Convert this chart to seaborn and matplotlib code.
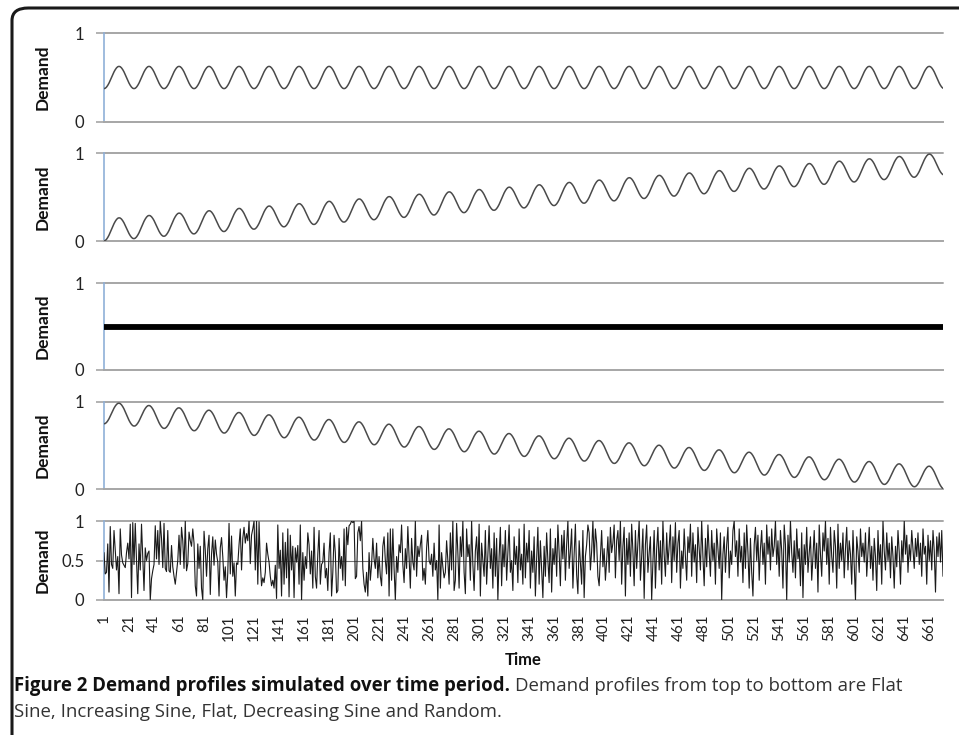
import numpy as np
import pandas as pd
import matplotlib
matplotlib.use("Agg")
import matplotlib.pyplot as plt
from matplotlib.patches import FancyBboxPatch
import seaborn as sns

# ---------------------------------------------------------------- data
N_PERIODS = 672
time = np.arange(1, N_PERIODS + 1)

# one daily cycle (24 steps) of the seasonal swing, as offsets from the level
cycle_offsets = [-0.125, -0.121, -0.108, -0.088, -0.063, -0.032,
                 0.000, 0.032, 0.063, 0.088, 0.108, 0.121,
                 0.125, 0.121, 0.108, 0.088, 0.063, 0.032,
                 0.000, -0.032, -0.063, -0.088, -0.108, -0.121]

# demand level at the first and last period of each profile
flat_sine_level = [0.5, 0.5]
increasing_level = [0.125, 0.875]
flat_level = [0.5, 0.5]
decreasing_level = [0.875, 0.125]

# random demand, in percent of the maximum
random_pct = [
    60, 33, 35, 71, 10, 93, 45, 40, 88, 62, 38, 55, 8, 90, 57, 47, 44, 41, 60, 72, 52, 96, 3, 98,
    45, 97, 50, 8, 71, 38, 96, 53, 12, 66, 50, 59, 62, 0, 27, 37, 45, 94, 52, 88, 45, 100, 78, 41,
    97, 40, 36, 88, 37, 35, 69, 42, 30, 20, 35, 50, 82, 45, 92, 75, 40, 100, 37, 46, 86, 75, 68, 90,
    72, 18, 5, 71, 40, 68, 15, 0, 87, 63, 30, 65, 82, 7, 58, 80, 44, 76, 58, 48, 5, 66, 79, 55,
    25, 42, 3, 35, 97, 33, 81, 30, 47, 5, 47, 45, 70, 90, 38, 78, 92, 72, 84, 75, 100, 46, 82, 90,
    100, 38, 100, 20, 99, 47, 18, 28, 22, 35, 72, 58, 48, 30, 18, 25, 15, 44, 2, 95, 40, 63, 5, 85,
    20, 73, 28, 90, 4, 82, 38, 68, 3, 66, 48, 69, 20, 95, 0, 60, 25, 55, 40, 85, 70, 33, 62, 15,
    92, 30, 15, 58, 88, 20, 45, 48, 72, 28, 40, 12, 60, 85, 5, 35, 82, 60, 9, 12, 78, 40, 55, 25,
    90, 18, 92, 70, 94, 96, 100, 98, 100, 27, 30, 85, 93, 75, 100, 40, 20, 10, 35, 5, 60, 25, 45, 78,
    52, 40, 72, 28, 55, 30, 18, 68, 80, 50, 33, 85, 5, 90, 25, 90, 40, 0, 55, 35, 70, 60, 95, 45,
    22, 65, 40, 93, 55, 15, 78, 48, 38, 100, 30, 68, 55, 70, 82, 25, 40, 20, 66, 88, 50, 45, 58, 30,
    72, 38, 50, 0, 95, 15, 60, 42, 28, 35, 75, 50, 20, 85, 38, 100, 12, 25, 97, 60, 15, 80, 55, 100,
    35, 8, 90, 55, 70, 25, 100, 45, 12, 62, 80, 38, 96, 5, 72, 50, 30, 88, 20, 58, 94, 40, 65, 15,
    85, 30, 78, 0, 55, 92, 18, 70, 42, 88, 25, 60, 95, 35, 50, 12, 80, 45, 68, 22, 90, 38, 58, 20,
    96, 28, 72, 48, 88, 15, 62, 35, 80, 5, 52, 92, 20, 75, 40, 3, 68, 30, 85, 50, 22, 90, 10, 65,
    45, 78, 30, 95, 60, 18, 82, 52, 88, 25, 70, 100, 40, 62, 90, 15, 58, 96, 32, 8, 75, 48, 20, 88,
    3, 55, 70, 95, 85, 38, 62, 100, 48, 90, 72, 30, 18, 55, 88, 42, 65, 25, 50, 80, 35, 92, 60, 72,
    95, 28, 75, 88, 50, 100, 20, 68, 92, 5, 78, 45, 85, 30, 96, 62, 18, 88, 40, 72, 100, 25, 55, 90,
    2, 70, 95, 35, 60, 80, 0, 48, 88, 15, 65, 92, 38, 75, 20, 100, 58, 30, 85, 45, 68, 95, 22, 80,
    50, 98, 35, 72, 88, 15, 62, 40, 90, 55, 25, 80, 60, 96, 30, 85, 48, 70, 22, 92, 65, 38, 100, 55,
    18, 78, 42, 95, 60, 30, 88, 50, 72, 20, 90, 65, 40, 85, 0, 58, 80, 35, 70, 92, 28, 62, 45, 88,
    100, 55, 75, 30, 90, 48, 68, 22, 85, 40, 95, 60, 15, 78, 35, 5, 70, 92, 50, 82, 25, 65, 88, 45,
    72, 20, 95, 58, 80, 38, 90, 55, 68, 100, 45, 75, 30, 88, 62, 15, 95, 70, 0, 82, 48, 100, 60, 35,
    75, 28, 90, 52, 65, 18, 85, 3, 70, 45, 92, 35, 60, 80, 25, 55, 88, 40, 72, 10, 95, 58, 30, 85,
    62, 100, 45, 78, 20, 92, 55, 35, 88, 68, 15, 96, 40, 72, 50, 85, 28, 65, 92, 38, 75, 58, 20, 88,
    45, 0, 80, 62, 35, 90, 55, 72, 48, 85, 30, 60, 92, 40, 68, 25, 78, 55, 12, 88, 45, 70, 20, 100,
    62, 38, 85, 50, 72, 28, 80, 55, 15, 68, 42, 88, 60, 20, 75, 48, 100, 58, 82, 35, 70, 50, 88, 65,
    40, 78, 55, 85, 45, 72, 30, 90, 58, 68, 20, 82, 50, 75, 38, 88, 62, 10, 80, 55, 85, 48, 88, 30,
]

x_tick_values = list(range(1, N_PERIODS, 20))
x_tick_labels = [str(v) for v in x_tick_values]
x_major_marks = list(range(1, N_PERIODS, 100))


def seasonal(level, with_cycle=True):
    lvl = np.linspace(level[0], level[1], N_PERIODS)
    if not with_cycle:
        return lvl
    n_cycles = N_PERIODS // len(cycle_offsets)
    return lvl + np.tile(cycle_offsets, n_cycles)


df = pd.DataFrame({
    "Time": time,
    "Flat Sine": seasonal(flat_sine_level),
    "Increasing Sine": seasonal(increasing_level),
    "Flat": seasonal(flat_level, with_cycle=False),
    "Decreasing Sine": seasonal(decreasing_level),
    "Random": np.array(random_pct[:N_PERIODS]) / 100.0,
})

# ---------------------------------------------------------------- style
sns.set_theme(style="white")
plt.rcParams["font.family"] = ["Lato", "DejaVu Sans"]

W, H = 959, 735
fig = plt.figure(figsize=(W / 100, H / 100), dpi=100)

AXIS_BLUE = "#8FB0D8"
GRID_GREY = "#A6A6A6"
LINE_GREY = "#4A4A4A"


def rect(x0, y_top, x1, y_bot):
    return [x0 / W, 1 - y_bot / H, (x1 - x0) / W, (y_bot - y_top) / H]


panels = [
    ("Flat Sine", (104, 33, 943, 122), dict(color=LINE_GREY, linewidth=1.1)),
    ("Increasing Sine", (104, 153, 943, 241), dict(color=LINE_GREY, linewidth=1.1)),
    ("Flat", (104, 283, 943, 370), dict(color="black", linewidth=4.2)),
    ("Decreasing Sine", (104, 402, 943, 489), dict(color=LINE_GREY, linewidth=1.1)),
    ("Random", (104, 521, 943, 600), dict(color="#1a1a1a", linewidth=0.8)),
]

for i, (name, box, line_kw) in enumerate(panels):
    ax = fig.add_axes(rect(*box))
    is_last = i == len(panels) - 1
    if is_last:
        ax.axhline(0.5, color="#707070", linewidth=0.8, zorder=0)
    sns.lineplot(data=df, x="Time", y=name, ax=ax, legend=False,
                 estimator=None, zorder=3, **line_kw)
    ax.set_xlim(1, N_PERIODS)
    ax.set_ylim(0, 1)
    ax.axhline(1, color=GRID_GREY, linewidth=1.4, clip_on=False, zorder=1)

    for s in ("top", "right"):
        ax.spines[s].set_visible(False)
    ax.spines["left"].set_color(AXIS_BLUE)
    ax.spines["left"].set_linewidth(1.2)
    ax.spines["bottom"].set_color(GRID_GREY)
    ax.spines["bottom"].set_linewidth(1.4)

    if is_last:
        ax.set_yticks([0, 0.5, 1])
        ax.set_yticklabels(["0", "0.5", "1"])
    else:
        ax.set_yticks([0, 1])
        ax.set_yticklabels(["0", "1"])
    ax.tick_params(axis="y", direction="out", length=6, width=1.2,
                   color=GRID_GREY, labelsize=12, pad=8, labelcolor="#222222",
                   left=True)

    ax.set_ylabel("Demand", fontsize=12.5, fontweight="bold", color="#111111")
    ax.yaxis.set_label_coords(-0.064, 0.5)

    if is_last:
        ax.set_xticks(x_tick_values)
        ax.set_xticklabels(x_tick_labels, rotation=90)
        ax.set_xticks(x_major_marks, minor=True)
        ax.tick_params(axis="x", which="major", length=0, labelsize=11,
                       pad=10, labelcolor="#222222", bottom=True)
        ax.tick_params(axis="x", which="minor", length=5, width=1.2,
                       color=GRID_GREY, bottom=True, direction="out")
        ax.set_xlabel("Time", fontsize=12, fontweight="bold", color="#111111")
        ax.xaxis.set_label_coords(0.5, -0.66)
    else:
        ax.set_xticks([])
        ax.set_xlabel("")

# ---------------------------------------------------------------- frame
frame = FancyBboxPatch((12 / W, -0.2), 1.2, (H - 8) / H + 0.2,
                       boxstyle="round,pad=0,rounding_size=0.017",
                       transform=fig.transFigure, fill=False,
                       edgecolor="#1a1a1a", linewidth=2.2, clip_on=False)
fig.patches.append(frame)

# ---------------------------------------------------------------- caption
cap_family = ["Open Sans", "DejaVu Sans"]
cap_size = 13.4
t_bold = fig.text(14 / W, 1 - 686 / H, "Figure 2 Demand profiles simulated over time period.",
                  fontsize=cap_size, fontweight="bold", family=cap_family,
                  color="#111111", va="center", ha="left")
fig.canvas.draw()
bb = t_bold.get_window_extent(renderer=fig.canvas.get_renderer())
fig.text((bb.x1 + 5) / W, 1 - 686 / H,
         "Demand profiles from top to bottom are Flat",
         fontsize=cap_size, family=cap_family, color="#333333", va="center", ha="left")
fig.text(14 / W, 1 - 712 / H, "Sine, Increasing Sine, Flat, Decreasing Sine and Random.",
         fontsize=cap_size, family=cap_family, color="#333333", va="center", ha="left")

fig.savefig("out.png", dpi=100)
